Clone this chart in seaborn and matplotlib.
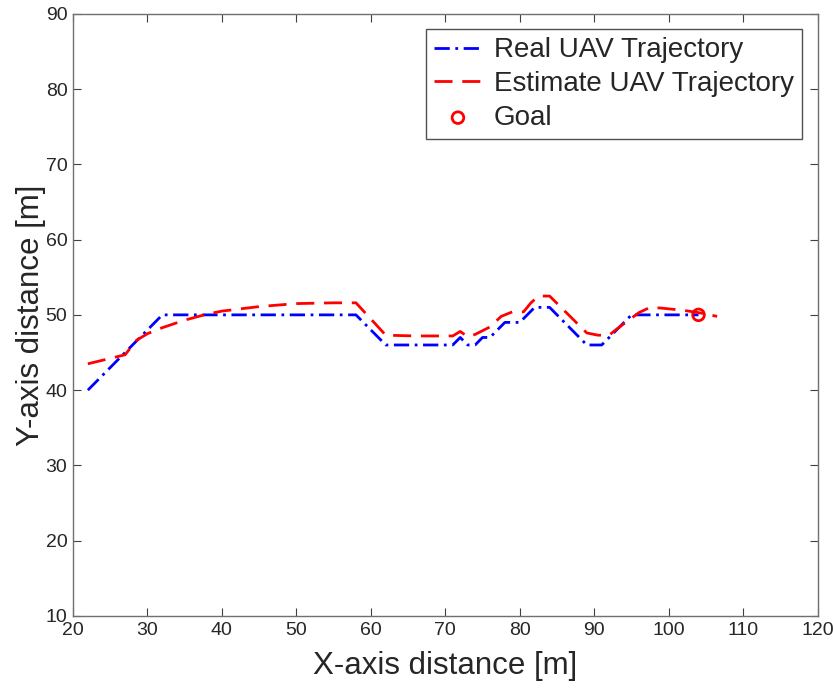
import matplotlib
matplotlib.use("Agg")
import matplotlib.pyplot as plt
import seaborn as sns
import pandas as pd

# ---- data ----
real_x = [22, 32, 58, 62, 71, 72, 73, 74, 75, 76, 78, 80, 82, 84, 89, 91, 95, 104]
real_y = [40, 50, 50, 46, 46, 47, 46, 46, 47, 47, 49, 49, 51, 51, 46, 46, 50, 50]

est_x = [22, 27, 28.5, 30, 32, 35, 38, 40, 45, 50, 55, 58, 62, 66, 71, 72, 73, 74,
         76, 77.5, 79, 80.5, 81.5, 82.5, 84, 89, 90.5, 92, 93, 96, 97.5, 99, 102, 104, 106.5]
est_y = [43.5, 44.7, 46.6, 47.5, 48.3, 49.3, 50.1, 50.5, 51.1, 51.5, 51.6, 51.6, 47.3, 47.2,
         47.2, 47.8, 47.1, 47.4, 48.4, 49.8, 50.4, 50.4, 51.6, 52.5, 52.5, 47.6, 47.3, 47.3,
         48.1, 50.3, 51.0, 50.9, 50.6, 50.3, 49.8]

goal_x = [104]
goal_y = [50]

x_ticks = [20, 30, 40, 50, 60, 70, 80, 90, 100, 110, 120]
y_ticks = [10, 20, 30, 40, 50, 60, 70, 80, 90]

labels = ["Real UAV Trajectory", "Estimate UAV Trajectory", "Goal"]

sns.set_theme(style="white")
plt.rcParams["font.family"] = ["Liberation Sans", "DejaVu Sans"]

fig = plt.figure(figsize=(8.33, 6.89), dpi=100)
ax = fig.add_axes([0.0876, 0.106, 0.894, 0.874])

real_df = pd.DataFrame({"x": real_x, "y": real_y})
est_df = pd.DataFrame({"x": est_x, "y": est_y})
goal_df = pd.DataFrame({"x": goal_x, "y": goal_y})

sns.lineplot(data=real_df, x="x", y="y", sort=False, ax=ax, color="#0000ff",
             linewidth=2.0, linestyle=(0, (5.5, 2.0, 1.0, 2.0)), label=labels[0])
sns.lineplot(data=est_df, x="x", y="y", sort=False, ax=ax, color="#ff0000",
             linewidth=2.0, linestyle=(0, (6.5, 3.5)), label=labels[1])
sns.scatterplot(data=goal_df, x="x", y="y", ax=ax, marker="o", s=70,
                facecolors="none", edgecolors="#ff0000", linewidth=2.0, label=labels[2])

ax.set_xlim(20, 120)
ax.set_ylim(10, 90)
ax.set_xticks(x_ticks)
ax.set_yticks(y_ticks)
ax.set_xticklabels([str(t) for t in x_ticks], fontsize=14, color="#262626")
ax.set_yticklabels([str(t) for t in y_ticks], fontsize=14, color="#262626")
ax.tick_params(direction="in", length=6, width=0.8, color="#404040",
               top=True, right=True, bottom=True, left=True, pad=4)

ax.set_xlabel("X-axis distance [m]", fontsize=22.5, color="#262626", labelpad=9)
ax.set_ylabel("Y-axis distance [m]", fontsize=22.5, color="#262626", labelpad=0)

for s in ax.spines.values():
    s.set_visible(True)
    s.set_color("#707070")
    s.set_linewidth(1.0)

leg = ax.legend(loc="upper right", fontsize=20, frameon=True, fancybox=False,
                edgecolor="#262626", borderpad=0.3, labelspacing=0.28,
                handlelength=1.7, handletextpad=0.45, borderaxespad=0.55)
leg.get_frame().set_linewidth(1.0)

fig.savefig("out.png", dpi=100)
